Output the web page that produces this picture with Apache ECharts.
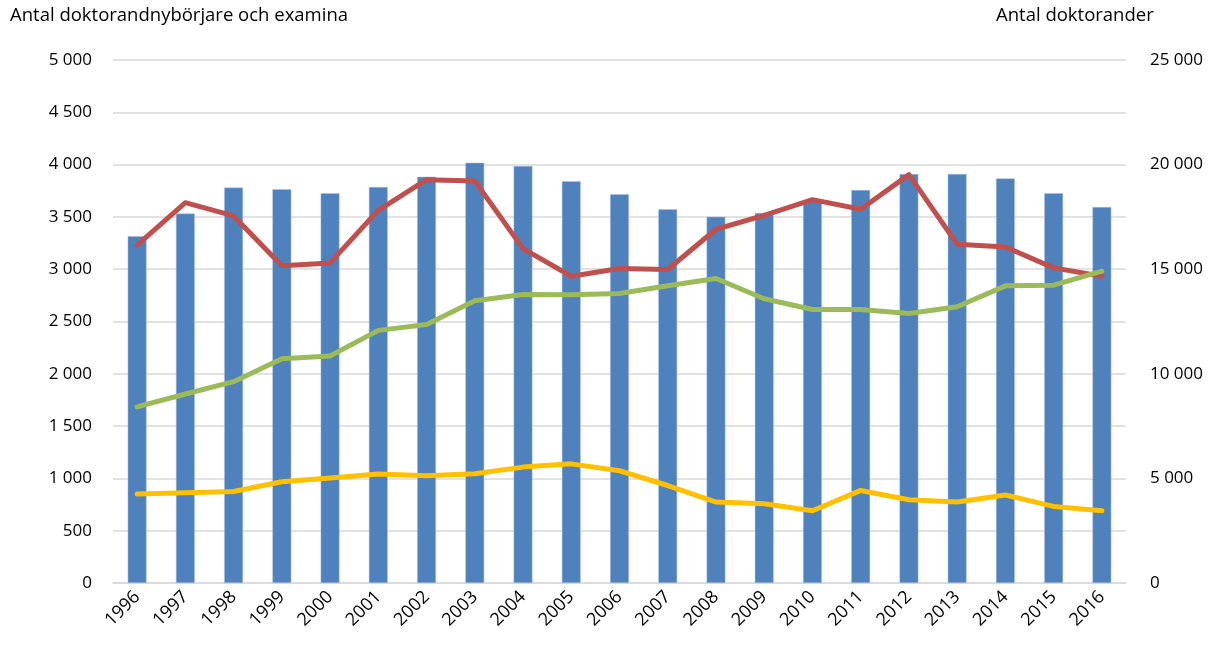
<!DOCTYPE html>
<html>
<head>
<meta charset="utf-8">
<script src="https://cdn.jsdelivr.net/npm/echarts@6/dist/echarts.min.js"></script>
<style>
  html, body { margin: 0; padding: 0; background: #fff; }
  #chart { width: 1219px; height: 648px; }
</style>
</head>
<body>
<div id="chart"></div>
<script>
// år
const years = ['1996', '1997', '1998', '1999', '2000', '2001', '2002', '2003', '2004', '2005', '2006',
  '2007', '2008', '2009', '2010', '2011', '2012', '2013', '2014', '2015', '2016'];

// staplar, höger axel
const doktorander = [16580, 17660, 18900, 18820, 18630, 18930, 19420, 20090, 19930, 19210, 18580,
  17860, 17510, 17690, 18250, 18780, 19550, 19550, 19340, 18630, 17970];

// linjer, vänster axel
const redLine = [3230, 3636, 3509, 3032, 3060, 3563, 3856, 3843, 3197, 2933, 3007,
  2997, 3382, 3515, 3665, 3573, 3904, 3239, 3213, 3013, 2933];
const greenLine = [1683, 1807, 1925, 2144, 2170, 2415, 2472, 2698, 2758, 2755, 2767,
  2841, 2911, 2717, 2615, 2615, 2577, 2641, 2841, 2847, 2981];
const yellowLine = [850, 863, 875, 968, 1003, 1041, 1025, 1044, 1108, 1139, 1073,
  932, 774, 758, 691, 885, 796, 774, 841, 732, 691];

const leftTitle = 'Antal doktorandnybörjare och examina';
const rightTitle = 'Antal doktorander';

const fmt = v => String(v).replace(/\B(?=(\d{3})+(?!\d))/g, ' ');

const chart = echarts.init(document.getElementById('chart'));

function lineSeries(data, color) {
  return {
    type: 'line',
    yAxisIndex: 0,
    data: data,
    symbol: 'none',
    lineStyle: { color: color, width: 5, cap: 'round', join: 'round' },
    itemStyle: { color: color },
    animation: false
  };
}

const option = {
  animation: false,
  textStyle: { fontFamily: 'Open Sans' },
  grid: { left: 113, right: 93, top: 60, bottom: 65 },
  graphic: [
    {
      type: 'text', left: 10, top: 6,
      style: { text: leftTitle, fontSize: 18.5, fill: '#000', fontFamily: 'Open Sans' }
    },
    {
      type: 'text', left: 996, top: 6,
      style: { text: rightTitle, fontSize: 18.5, fill: '#000', fontFamily: 'Open Sans' }
    }
  ],
  xAxis: {
    type: 'category',
    data: years,
    axisLine: { lineStyle: { color: '#d9d9d9', width: 1.5 } },
    axisTick: { show: false },
    axisLabel: { rotate: 45, color: '#000', fontSize: 18, margin: 11, interval: 0 }
  },
  yAxis: [
    {
      type: 'value', min: 0, max: 5000, interval: 500,
      axisLine: { show: false }, axisTick: { show: false },
      axisLabel: { color: '#000', fontSize: 17, margin: 21, formatter: fmt },
      splitLine: { lineStyle: { color: '#d9d9d9', width: 1.5 } }
    },
    {
      type: 'value', min: 0, max: 25000, interval: 5000,
      axisLine: { show: false }, axisTick: { show: false },
      axisLabel: { color: '#000', fontSize: 17, margin: 24, formatter: fmt },
      splitLine: { show: false }
    }
  ],
  series: [
    {
      type: 'bar',
      yAxisIndex: 1,
      data: doktorander,
      barWidth: '39%',
      itemStyle: { color: '#4f81bd', borderColor: '#a9c1e0', borderWidth: 0.5 }
    },
    lineSeries(redLine, '#c0504d'),
    lineSeries(greenLine, '#9bbb59'),
    lineSeries(yellowLine, '#ffc000')
  ]
};

chart.setOption(option);
</script>
</body>
</html>
